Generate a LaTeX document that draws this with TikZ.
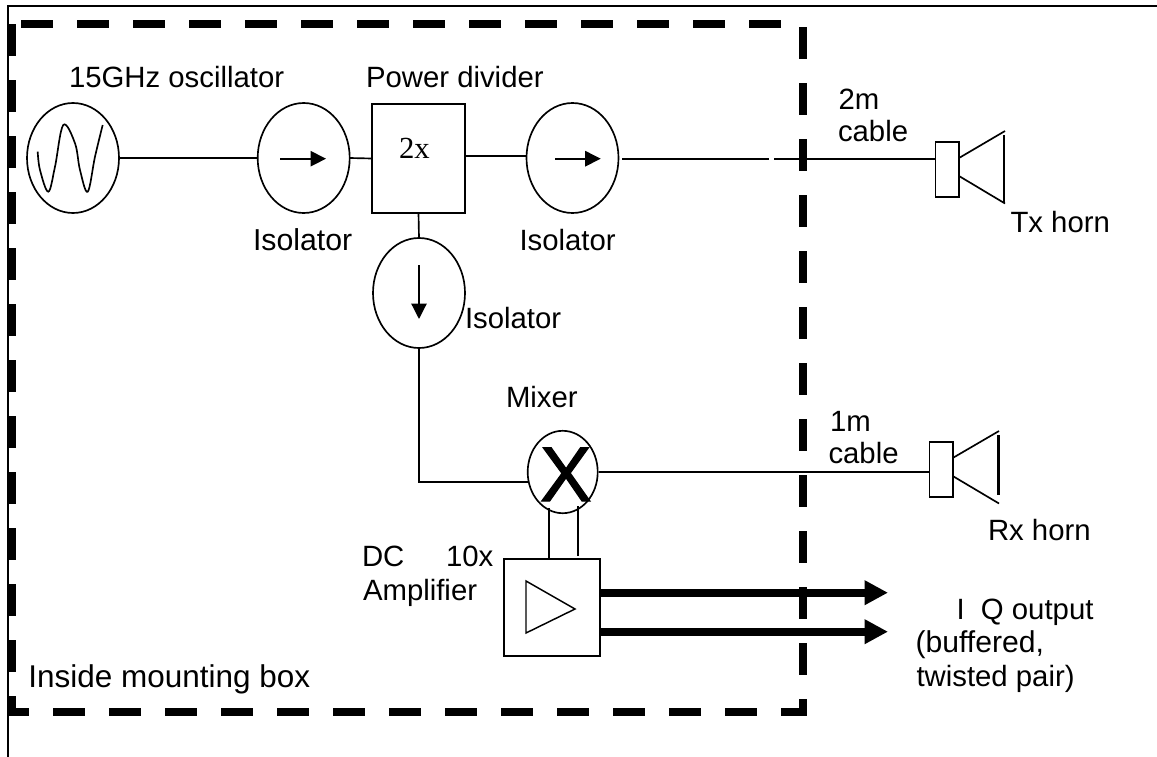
\documentclass[tikz,border=0pt]{standalone}
\usepackage{fontspec}
\setmainfont{Liberation Sans}
\newfontfamily\serifx{Liberation Serif}
\newfontfamily\heavyx[FakeBold=1.5]{Liberation Sans}
\usetikzlibrary{shapes.geometric,arrows.meta}
\tikzset{
  x=0.75pt,y=-0.75pt,
  every path/.style={line join=miter},
  wire/.style={draw=black,line width=1.25pt},
  lbl/.style={anchor=base west,inner sep=0pt,outer sep=0pt,font=\fontsize{22}{24}\selectfont},
  fs/.style={font=\fontsize{#1}{24}\selectfont},
  disc/.style={ellipse,draw=black,line width=1.25pt,inner sep=0pt,outer sep=0pt,minimum width=69pt,minimum height=82.5pt},
  boxn/.style={rectangle,draw=black,line width=1.4pt,inner sep=0pt,outer sep=0pt},
  hornbox/.style={rectangle,draw=black,line width=1.25pt,inner sep=0pt,outer sep=0pt,minimum width=17.5pt,minimum height=40.8pt},
  dashwall/.style={draw=black,line width=6pt,dash pattern=on 24pt off 18pt},
  isoarrow/.style={draw=black,line width=1.25pt,-{Triangle[length=11.6pt,width=11.5pt]}},
  bigarrow/.style={draw=black,line width=6pt,-{Triangle[length=17.6pt,width=17.5pt]}},
}
\begin{document}
\begin{tikzpicture}
\useasboundingbox (0,0) rectangle (1157,757);
% outer frame
\coordinate (fbl) at (8.3,757);
\coordinate (ftl) at (8.3,6);
\coordinate (ftr) at (1157,6);
\draw[line width=1.3pt] (fbl) -- (ftl) -- (ftr);
% mounting box
\coordinate (ml1) at (12,24.3); \coordinate (ml2) at (12,716);
\coordinate (mt1) at (21,24);   \coordinate (mt2) at (782,24);
\coordinate (mr1) at (803,27.3); \coordinate (mr2) at (803,716);
\coordinate (mb1) at (8,712);   \coordinate (mb2) at (807,712);
\draw[dashwall] (ml1) -- (ml2);
\draw[dashwall] (mt1) -- (mt2);
\draw[dashwall] (mr1) -- (mr2);
\draw[draw=black,line width=6pt,dash pattern=on 24pt off 18pt,dash phase=8.2pt] (mb1) -- (mb2);
% components
\node[disc] (osc) at (73,158) {};
\node[disc] (isoa) at (303.7,158) {};
\node[boxn,minimum width=69.7pt,minimum height=81.7pt] (pd) at (418.5,158.5) {};
\node[disc] (isob) at (572.5,158) {};
\node[disc] (isoc) at (419,293) {};
\node[disc,minimum width=52.5pt,minimum height=61.8pt] (mix) at (562.7,472) {};
\node[boxn,minimum width=72pt,minimum height=73pt] (amp) at (552,607.3) {};
\node[hornbox] (txb) at (947.2,169.5) {};
\node[hornbox] (rxb) at (941,469.5) {};
% wave
\draw[line width=1.25pt] plot[smooth,tension=0.6] coordinates {(37.7,151.7) (40,170) (48.3,191.7) (55,166.7) (63.3,125) (75,143.3) (80,170) (87.7,191.7) (95,156.7) (102.7,125)};
% isolator arrows
\coordinate (aa1) at (280,158.7); \coordinate (aa2) at (326,158.7);
\coordinate (ab1) at (555,158.7); \coordinate (ab2) at (600.7,158.7);
\coordinate (ac1) at (419,265);   \coordinate (ac2) at (419,319);
\draw[isoarrow] (aa1) -- (aa2);
\draw[isoarrow] (ab1) -- (ab2);
\draw[isoarrow] (ac1) -- (ac2);
% connectors
\draw[wire] (osc.east) -- (isoa.west);
\draw[wire] (isoa.east) -- (pd.west);
\coordinate (pb1) at (465,156.3); \coordinate (pb2) at (526,156.3);
\draw[wire] (pb1) -- (pb2);
\coordinate (tx1) at (622,158.7); \coordinate (tx2) at (769,158.7);
\coordinate (tx3) at (774,158.7); \coordinate (tx4) at (935.3,158.7);
\draw[wire] (tx1) -- (tx2);
\draw[wire] (tx3) -- (tx4);
\draw[wire] (pd.south) -- (isoc.north);
\coordinate (lo1) at (419,481.7); \coordinate (lo2) at (528.5,481.7);
\draw[wire] (isoc.south) -- (lo1) -- (lo2);
\coordinate (rx1) at (599.3,472); \coordinate (rx2) at (929.3,472);
\draw[wire] (rx1) -- (rx2);
\coordinate (ma1) at (549,508); \coordinate (ma2) at (549,558.7);
\coordinate (mc1) at (577.7,506); \coordinate (mc2) at (577.7,556);
\draw[wire] (ma1) -- (ma2);
\draw[wire] (mc1) -- (mc2);
% amplifier triangle
\coordinate (t1) at (526,581); \coordinate (t2) at (526,633); \coordinate (t3) at (575,609);
\draw[line width=1.1pt] (t1) -- (t2) -- (t3) -- cycle;
% IQ outputs
\coordinate (q1) at (600,592.7); \coordinate (q2) at (888,592.7);
\coordinate (i1) at (600,631.7); \coordinate (i2) at (888,631.7);
\draw[bigarrow] (q1) -- (q2);
\draw[bigarrow] (i1) -- (i2);
% horns
\coordinate (h1) at (959,158); \coordinate (h2) at (1005,131);
\coordinate (h3) at (1004.3,135); \coordinate (h4) at (1004.3,203);
\coordinate (h5) at (959,176); \coordinate (h6) at (1005,203.5);
\draw[wire] (h1) -- (h2); \draw[wire] (h3) -- (h4); \draw[wire] (h5) -- (h6);
\coordinate (r1) at (952.7,458); \coordinate (r2) at (999,431);
\coordinate (r3) at (998.7,435); \coordinate (r4) at (998.7,495);
\coordinate (r5) at (952.7,476); \coordinate (r6) at (999,503.5);
\draw[wire] (r1) -- (r2); \draw[line width=1.9pt] (r3) -- (r4); \draw[wire] (r5) -- (r6);
% texts
\node[lbl] (t15) at (69,87.7) {15GHz oscillator};
\node[lbl] (tpd) at (366,87.7) {Power divider};
\node[lbl,fs=22.7] (tia) at (253,250) {Isolator};
\node[lbl] (tib) at (519.5,250) {Isolator};
\node[lbl] (tic) at (465,328) {Isolator};
\node[lbl,font=\serifx\fontsize{23}{24}\selectfont] (t2x) at (399,158.3) {2x};
\node[lbl] (tmx) at (506,407.7) {Mixer};
\node[lbl,font=\heavyx\fontsize{58}{60}\selectfont] (tX) at (540,501) {X};
\node[lbl] (tdc) at (362,566.7) {DC};
\node[lbl] (t10) at (446,566.7) {10x};
\node[lbl] (tam) at (363,600) {Amplifier};
\node[lbl,fs=23.6] (tin) at (28.5,687.7) {Inside mounting box};
\node[lbl] (tiq) at (956.5,619.3) {I\ \ Q output};
\node[lbl,fs=22.6] (tbu) at (915.5,652.7) {(buffered,};
\node[lbl] (ttw) at (916.5,686) {twisted pair)};
\node[lbl] (t2m) at (838.5,109.3) {2m};
\node[lbl] (tc2) at (838,141.7) {cable};
\node[lbl] (t1m) at (830,431) {1m};
\node[lbl] (tc1) at (828.5,463.3) {cable};
\node[lbl] (ttx) at (1010.5,232.7) {Tx horn};
\node[lbl] (trx) at (988,540) {Rx horn};
\end{tikzpicture}
\end{document}
